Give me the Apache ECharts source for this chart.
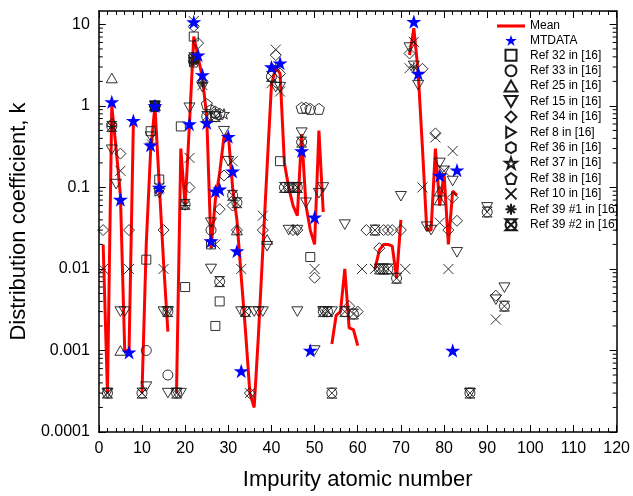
<!DOCTYPE html>
<html><head><meta charset="utf-8">
<script src="https://cdn.jsdelivr.net/npm/echarts@6/dist/echarts.min.js"></script>
<style>html,body{margin:0;padding:0;background:#fff}#c{width:633px;height:496px}</style>
</head><body><div id="c"></div>
<script>
// ---------- data ----------
const xTicks = [0,10,20,30,40,50,60,70,80,90,100,110,120];
const yTickLabels = ['0.0001','0.001','0.01','0.1','1','10'];

// Mean curve, segments separated by null
const meanZ = [1,2,3,4,5,6,7,8, null, 10,11,12,13,14,15,16, null,
  18,19,20,21,22,23,24,25,26,27,28,29,30,31,32,33,34,35,36,37,38,39,40,41,42,43,44,45,46,47,48,49,50,51,52, null,
  54,55,56,57,58,59,60, null, 64,65,66,67,68,69,70, null, 72,73,74,75,76,77,78,79,80,81,82,83];
const meanK = [0.02,0.0003,1.0,0.3,0.08,0.001,0.001,0.6, null, 0.0003,0.021,0.28,1.0,0.11,0.012,0.0017, null,
  0.0003,0.3,0.06,0.6,7.1,4.0,2.2,0.75,0.018,0.07,0.15,0.42,0.45,0.1,0.04,0.008,0.0017,0.0003,0.0002,0.0016,0.017,0.18,1.8,3.0,2.5,0.2,0.1,0.06,0.045,0.45,0.06,0.03,0.02,0.5,0.05, null,
  0.0012,0.0027,0.003,0.01,0.0019,0.0018,0.00115, null, 0.01,0.017,0.02,0.02,0.019,0.0077,0.04, null,
  4.2,9.0,2.6,0.3,0.03,0.03,0.3,0.06,0.15,0.02,0.09,0.08];

const mtZ = [3,5,7,8,12,13,14,21,22,23,24,25,26,27,28,30,31,32,33,40,42,47,49,50,73,74,79,82,83];
const mtK = [1.12,0.071,0.00095,0.66,0.33,1.0,0.1,0.6,10.7,4.2,2.4,0.62,0.022,0.09,0.095,0.42,0.158,0.0166,0.00056,3.0,3.35,0.28,0.001,0.043,10.8,2.5,0.14,0.001,0.163];

const r32Z = [11,12,13,14,19,20,22,26,27,28,42,49];
const r32K = [0.013,0.49,1.0,0.125,0.56,0.006,7.1,0.02,0.002,0.004,0.21,0.014];

const r33Z = [11,13,16,26];
const r33K = [0.001,1.0,0.0005,0.03];

const r25Z = [3,5,13,32,39,79,79];
const r25K = [2.2,0.001,1.0,0.03,0.023,0.09,0.07];

const r15Z = [2,3,4,5,6,11,12,13,14,15,16,16,18,19,21,22,24,26,26,29,30,33,36,37,38,39,41,42,44,46,46,47,48,51,52,52,54,50,57,70,72,73,74,76,77,79,80,82,83,90,92,94,86];
const r15K = [0.0003,0.29,0.11,0.003,0.003,0.00036,0.42,1.0,0.085,0.003,0.003,0.0003,0.0003,0.0003,0.95,3.7,1.7,0.037,0.01,0.49,0.21,0.003,0.003,0.003,0.003,0.019,1.7,1.7,0.03,0.03,0.003,0.47,0.065,0.085,0.1,0.003,0.003,0.001,0.035,0.078,5.2,3.1,1.8,0.033,0.03,0.2,0.16,0.12,0.016,0.057,0.0042,0.0059,0.0003];

const r34Z = [1,3,5,7,13,15,21,22,23,24,28,29,31,32,35,38,41,42,45,46,50,58,60,62,65,66,67,68,70,72,75,78,81,82,83,92];
const r34K = [0.03,0.6,0.26,0.03,1.0,0.03,0.1,9.4,5.9,2.0,0.054,0.14,0.06,0.03,0.0003,0.03,4.2,2.5,0.03,0.03,0.0078,0.0035,0.003,0.03,0.018,0.03,0.03,0.03,0.03,4.4,2.85,0.46,0.03,0.075,0.039,0.0047];

const r8Z = [13,14,22];
const r8K = [1.0,0.09,3.5];

const r36Z = [13,22,26,27];
const r36K = [1.0,3.6,0.9,0.8];

const r37Z = [13,22,29];
const r37K = [1.0,3.8,0.8];

const r38Z = [13,22,25,27,28,47,48,49,51];
const r38K = [1.0,3.5,1.05,0.85,0.8,0.95,0.95,0.92,0.92];

const r10Z = [1,2,5,7,10,14,15,21,22,24,27,31,33,35,38,40,41,42,46,50,61,64,71,72,73,75,78,79,80,81,82,92];
const r10K = [0.01,0.0003,0.16,0.01,0.0003,0.1,0.01,0.23,11,1.8,0.02,0.21,0.01,0.0003,0.045,1.9,4.9,1.5,0.1,0.01,0.01,0.01,0.01,2.9,6.1,0.1,0.41,0.037,0.16,0.01,0.28,0.0024];

const r391Z = [3,12,13,20,22,24,41,73];
const r391K = [0.56,0.35,1.0,0.06,3.5,1.9,3.0,3.0];

const r392Z = [2,3,10,13,16,18,20,22,25,27,28,31,32,34,40,43,44,45,46,47,52,53,54,57,59,64,65,66,67,69,86,90,94];
const r392K = [0.0003,0.56,0.0003,1.0,0.003,0.0003,0.062,3.9,0.74,0.74,0.007,0.08,0.065,0.003,2.3,0.1,0.1,0.1,0.1,0.36,0.003,0.003,0.0003,0.003,0.0028,0.03,0.01,0.01,0.01,0.0077,0.0003,0.05,0.0035];

// ---------- build ----------
const pair = (zs, ks) => zs.map((z, i) => [z, ks[i]]);
const FONT = 'Liberation Sans, Arial, sans-serif';
const INK = '#1a1a1a';

const SYM = {
  star: 'path://M50,0 L61.8,36.2 L100,36.2 L69.1,58.8 L80.9,95.1 L50,72.4 L19.1,95.1 L30.9,58.8 L0,36.2 L38.2,36.2 Z',
  rect: 'path://M0,0 L100,0 L100,100 L0,100 Z',
  tri: 'path://M50,0 L100,86.6 L0,86.6 Z',
  itri: 'path://M0,0 L100,0 L50,86.6 Z',
  dia: 'path://M50,0 L100,50 L50,100 L0,50 Z',
  rtri: 'path://M0,0 L86.6,50 L0,100 Z',
  hex: 'path://M50,0 L93.3,25 L93.3,75 L50,100 L6.7,75 L6.7,25 Z',
  pent: 'path://M50,0 L100,38.2 L80.9,100 L19.1,100 L0,38.2 Z',
  cross: 'path://M0,0 L100,100 M100,0 L0,100',
  ast: 'path://M50,0 L50,100 M0,50 L100,50 M15,15 L85,85 M85,15 L15,85',
  cx: 'path://M0,0 L100,0 L0,100 L100,100 Z M50,0 A50,50 0 1 1 50,100 A50,50 0 1 1 50,0',
  bar: 'path://M0,0 L100,0 L100,11 L0,11 Z'
};

function hollow(name, zs, ks, symbol, size) {
  return {
    name, type: 'scatter', data: pair(zs, ks), symbol, symbolSize: size, symbolKeepAspect: true,
    itemStyle: { color: 'rgba(0,0,0,0)', borderColor: INK, borderWidth: 0.9, opacity: 1 },
    z: 3, emphasis: { disabled: true }, animation: false
  };
}

// split mean into segments
const meanSegs = [];
let cur = [];
meanZ.forEach((z, i) => {
  if (z === null) { if (cur.length) meanSegs.push(cur); cur = []; }
  else cur.push([z, meanK[i]]);
});
if (cur.length) meanSegs.push(cur);

const series = [];
meanSegs.forEach(seg => series.push({
  name: 'Mean', type: 'line', data: seg, symbol: 'none', z: 2, animation: false,
  lineStyle: { color: '#ff0000', width: 3 }, itemStyle: { color: '#ff0000' }
}));
series.push({
  name: 'MTDATA', type: 'scatter', data: pair(mtZ, mtK), symbol: SYM.star, symbolSize: 15, symbolKeepAspect: true,
  itemStyle: { color: '#0000ff', opacity: 1 }, z: 5, animation: false
});
series.push(hollow('Ref 32 in [16]', r32Z, r32K, SYM.rect, 9));
series.push(hollow('Ref 33 in [16]', r33Z, r33K, 'circle', 10));
series.push(hollow('Ref 25 in [16]', r25Z, r25K, SYM.tri, 11));
series.push(hollow('Ref 15 in [16]', r15Z, r15K, SYM.itri, 11));
series.push(hollow('Ref 34 in [16]', r34Z, r34K, SYM.dia, 11));
series.push(hollow('Ref 8 in [16]', r8Z, r8K, SYM.rtri, 10));
series.push(hollow('Ref 36 in [16]', r36Z, r36K, SYM.hex, 10));
series.push(hollow('Ref 37 in [16]', r37Z, r37K, SYM.star, 11));
series.push(hollow('Ref 38 in [16]', r38Z, r38K, SYM.pent, 11));
series.push(hollow('Ref 10 in [16]', r10Z, r10K, SYM.cross, 10));
series.push(hollow('Ref 39 #1 in [16]', r391Z, r391K, SYM.ast, 10));
series.push(hollow('Ref 39 #2 in [16]', r392Z, r392K, SYM.cx, 10));

// log minor ticks on left and right edges
series.push({
  type: 'custom', silent: true, z: 6, data: [[0, 1]], animation: false,
  renderItem: function (params, api) {
    const ch = [];
    for (let e = -4; e <= 1; e++) {
      for (let m = 2; m <= 9; m++) {
        const v = m * Math.pow(10, e);
        if (v > 14.5) break;
        const l = api.coord([0, v]), r = api.coord([120, v]);
        ch.push({ type: 'line', shape: { x1: l[0], y1: l[1], x2: l[0] + 4, y2: l[1] }, style: { stroke: '#000', lineWidth: 1 } });
        ch.push({ type: 'line', shape: { x1: r[0], y1: r[1], x2: r[0] - 4, y2: r[1] }, style: { stroke: '#000', lineWidth: 1 } });
      }
    }
    return { type: 'group', children: ch };
  }
});

const axisLine = { show: true, onZero: false, lineStyle: { color: '#000', width: 1.5 } };
const yFmt = v => {
  const l = Math.log10(v), e = Math.round(l);
  if (Math.abs(l - e) > 1e-6) return '';
  const s = yTickLabels[e + 4];
  return s === undefined ? '' : s;
};

const legendNames = ['MTDATA', 'Ref 32 in [16]', 'Ref 33 in [16]', 'Ref 25 in [16]', 'Ref 15 in [16]', 'Ref 34 in [16]',
  'Ref 8 in [16]', 'Ref 36 in [16]', 'Ref 37 in [16]', 'Ref 38 in [16]', 'Ref 10 in [16]', 'Ref 39 #1 in [16]', 'Ref 39 #2 in [16]'];

const option = {
  backgroundColor: '#fff',
  animation: false,
  grid: { left: 92, right: 15, top: 11, bottom: 63, containLabel: false },
  legend: {
    orient: 'vertical', left: 497, top: 20, padding: 0,
    itemWidth: 28, itemHeight: 11, itemGap: 2.4, symbolKeepAspect: true,
    textStyle: { fontFamily: FONT, fontSize: 12, color: '#000', lineHeight: 11 },
    selectedMode: false,
    data: [{ name: 'Mean', icon: SYM.bar }].concat(legendNames)
  },
  xAxis: [{
    type: 'value', min: xTicks[0], max: xTicks[xTicks.length - 1], interval: 10, position: 'bottom',
    name: 'Impurity atomic number', nameLocation: 'middle', nameGap: 37,
    nameTextStyle: { fontFamily: FONT, fontSize: 22, color: '#000' },
    axisLine, splitLine: { show: false },
    axisTick: { show: true, inside: true, length: 7, lineStyle: { color: '#000', width: 1 } },
    minorTick: { show: true, splitNumber: 5, length: 4, lineStyle: { color: '#000', width: 1 } },
    axisLabel: { fontFamily: FONT, fontSize: 16, color: '#000', margin: 9 }
  }, {
    type: 'value', min: xTicks[0], max: xTicks[xTicks.length - 1], interval: 10, position: 'top',
    axisLine, splitLine: { show: false },
    axisTick: { show: true, inside: true, length: 7, lineStyle: { color: '#000', width: 1 } },
    minorTick: { show: true, splitNumber: 5, length: 4, lineStyle: { color: '#000', width: 1 } },
    axisLabel: { show: false }
  }],
  yAxis: [{
    type: 'log', logBase: 10, min: 0.0001, max: 14.6, position: 'left',
    name: 'Distribution coefficient, k', nameLocation: 'middle', nameGap: 60,
    nameTextStyle: { fontFamily: FONT, fontSize: 22, color: '#000' },
    axisLine, splitLine: { show: false },
    axisTick: { show: true, inside: true, length: 7, lineStyle: { color: '#000', width: 1 } },
    axisLabel: { fontFamily: FONT, fontSize: 16, color: '#000', margin: 9, formatter: yFmt, showMaxLabel: false }
  }, {
    type: 'log', logBase: 10, min: 0.0001, max: 14.6, position: 'right',
    axisLine, splitLine: { show: false },
    axisTick: { show: true, inside: true, length: 7, lineStyle: { color: '#000', width: 1 } },
    axisLabel: { show: false }
  }],
  series
};

const chart = echarts.init(document.getElementById('c'), null, { renderer: 'canvas' });
chart.setOption(option);
</script>
</body></html>
